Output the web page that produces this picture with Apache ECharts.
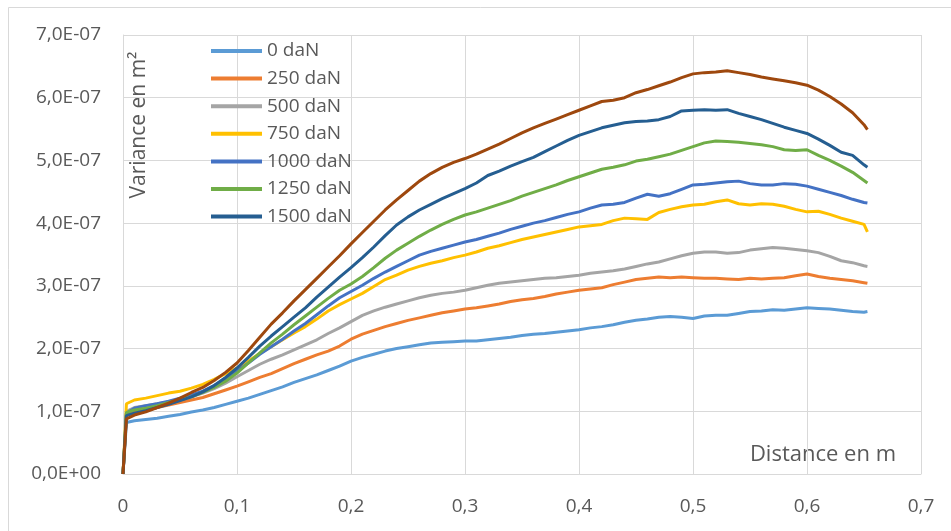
<!DOCTYPE html>
<html>
<head>
<meta charset="utf-8">
<script src="https://cdn.jsdelivr.net/npm/echarts@6/dist/echarts.min.js"></script>
<style>
html,body{margin:0;padding:0;background:#fff;}
#chart{width:951px;height:531px;}
</style>
</head>
<body>
<div id="chart"></div>
<script>
// Distance (m)
const distance = [0, 0.003,
  0.01,0.02,0.03,0.04,0.05,0.06,0.07,0.08,0.09,0.10,
  0.11,0.12,0.13,0.14,0.15,0.16,0.17,0.18,0.19,0.20,
  0.21,0.22,0.23,0.24,0.25,0.26,0.27,0.28,0.29,0.30,
  0.31,0.32,0.33,0.34,0.35,0.36,0.37,0.38,0.39,0.40,
  0.41,0.42,0.43,0.44,0.45,0.46,0.47,0.48,0.49,0.50,
  0.51,0.52,0.53,0.54,0.55,0.56,0.57,0.58,0.59,0.60,
  0.61,0.62,0.63,0.64,0.65,0.653];

// Variance values, in units of 1E-07 m²
const v0 = [0, 0.82,
  0.85,0.87,0.89,0.92,0.95,0.99,1.02,1.06,1.11,1.16,
  1.21,1.27,1.33,1.39,1.46,1.52,1.58,1.65,1.72,1.80,
  1.86,1.91,1.96,2.00,2.03,2.06,2.09,2.10,2.11,2.12,
  2.12,2.14,2.16,2.18,2.21,2.23,2.24,2.26,2.28,2.30,
  2.33,2.35,2.38,2.42,2.45,2.47,2.50,2.51,2.50,2.48,
  2.52,2.53,2.53,2.56,2.59,2.60,2.62,2.61,2.63,2.65,
  2.64,2.63,2.61,2.59,2.58,2.59];
const v250 = [0, 0.95,
  0.99,1.02,1.06,1.10,1.14,1.18,1.22,1.28,1.34,1.40,
  1.47,1.54,1.60,1.68,1.76,1.83,1.90,1.96,2.04,2.15,
  2.23,2.29,2.35,2.40,2.45,2.49,2.53,2.57,2.60,2.63,
  2.65,2.68,2.71,2.75,2.78,2.80,2.83,2.87,2.90,2.93,
  2.95,2.97,3.02,3.06,3.10,3.12,3.14,3.13,3.14,3.13,
  3.12,3.12,3.11,3.10,3.12,3.11,3.12,3.13,3.16,3.19,
  3.15,3.12,3.10,3.08,3.05,3.04];
const v500 = [0, 1.00,
  1.06,1.09,1.12,1.15,1.19,1.23,1.29,1.36,1.45,1.55,
  1.65,1.75,1.83,1.90,1.98,2.06,2.14,2.24,2.33,2.43,
  2.53,2.60,2.66,2.71,2.76,2.81,2.85,2.88,2.90,2.93,
  2.97,3.01,3.04,3.06,3.08,3.10,3.12,3.13,3.15,3.17,
  3.20,3.22,3.24,3.27,3.31,3.35,3.38,3.43,3.48,3.52,
  3.54,3.54,3.52,3.53,3.57,3.59,3.61,3.60,3.58,3.56,
  3.53,3.47,3.40,3.37,3.32,3.31];
const v750 = [0, 1.12,
  1.18,1.21,1.25,1.29,1.32,1.37,1.43,1.51,1.60,1.69,
  1.80,1.92,2.03,2.14,2.25,2.35,2.47,2.60,2.70,2.79,
  2.88,2.99,3.10,3.17,3.25,3.31,3.36,3.40,3.45,3.49,
  3.54,3.60,3.64,3.69,3.74,3.78,3.82,3.86,3.90,3.94,
  3.96,3.98,4.04,4.08,4.07,4.06,4.17,4.22,4.26,4.29,
  4.30,4.34,4.37,4.31,4.29,4.31,4.30,4.27,4.22,4.18,
  4.19,4.14,4.08,4.03,3.98,3.86];
const v1000 = [0, 0.97,
  1.05,1.09,1.12,1.16,1.21,1.26,1.32,1.41,1.52,1.64,
  1.77,1.91,2.03,2.15,2.28,2.40,2.54,2.68,2.81,2.91,
  3.01,3.12,3.22,3.31,3.40,3.49,3.55,3.60,3.65,3.70,
  3.74,3.79,3.84,3.90,3.95,4.00,4.04,4.09,4.14,4.18,
  4.24,4.29,4.30,4.33,4.40,4.46,4.43,4.47,4.54,4.61,
  4.62,4.64,4.66,4.67,4.63,4.61,4.61,4.63,4.62,4.59,
  4.54,4.49,4.44,4.38,4.33,4.32];
const v1250 = [0, 0.98,
  1.02,1.05,1.09,1.14,1.18,1.23,1.30,1.38,1.48,1.61,
  1.77,1.93,2.09,2.23,2.38,2.52,2.66,2.80,2.93,3.03,
  3.15,3.29,3.44,3.57,3.68,3.79,3.89,3.98,4.06,4.13,
  4.18,4.24,4.30,4.36,4.43,4.49,4.55,4.61,4.68,4.74,
  4.80,4.86,4.89,4.93,4.99,5.02,5.06,5.10,5.16,5.22,
  5.28,5.31,5.30,5.29,5.27,5.25,5.22,5.17,5.16,5.17,
  5.08,5.00,4.91,4.81,4.68,4.64];
const v1500 = [0, 0.93,
  0.97,1.01,1.06,1.11,1.17,1.23,1.31,1.41,1.54,1.69,
  1.86,2.04,2.20,2.35,2.50,2.65,2.82,2.98,3.14,3.29,
  3.45,3.62,3.80,3.97,4.10,4.21,4.30,4.39,4.47,4.55,
  4.64,4.76,4.83,4.91,4.98,5.05,5.14,5.23,5.32,5.40,
  5.46,5.52,5.56,5.60,5.62,5.63,5.65,5.70,5.79,5.80,
  5.81,5.80,5.81,5.75,5.70,5.65,5.59,5.53,5.48,5.43,
  5.34,5.24,5.13,5.08,4.93,4.89];
const v8 = [0, 0.88,
  0.94,0.99,1.06,1.13,1.21,1.30,1.38,1.49,1.62,1.77,
  1.97,2.18,2.39,2.57,2.76,2.94,3.12,3.30,3.48,3.67,
  3.85,4.03,4.21,4.37,4.52,4.67,4.79,4.89,4.97,5.03,
  5.10,5.18,5.26,5.35,5.44,5.52,5.59,5.66,5.73,5.80,
  5.87,5.94,5.96,6.00,6.08,6.13,6.19,6.25,6.32,6.38,
  6.40,6.41,6.43,6.40,6.37,6.33,6.30,6.27,6.24,6.20,
  6.12,6.02,5.90,5.76,5.57,5.49];

const seriesNames = ['0 daN','250 daN','500 daN','750 daN','1000 daN','1250 daN','1500 daN','Série 8'];
const legendNames = ['0 daN','250 daN','500 daN','750 daN','1000 daN','1250 daN','1500 daN'];
const seriesValues = [v0, v250, v500, v750, v1000, v1250, v1500, v8];
const colors = ['#5B9BD5','#ED7D31','#A5A5A5','#FFC000','#4472C4','#70AD47','#255E91','#9E480E'];

const FONT = '"Open Sans", "Noto Sans", sans-serif';
const TXT = '#595959';

const chart = echarts.init(document.getElementById('chart'), null, {renderer:'canvas'});
chart.setOption({
  animation: false,
  backgroundColor: '#ffffff',
  color: colors,
  textStyle: {fontFamily: FONT},
  grid: {left: 123, right: 30, top: 35, bottom: 57, containLabel: false},
  legend: {
    data: legendNames,
    orient: 'vertical',
    left: 211, top: 41,
    padding: 0,
    itemWidth: 51, itemHeight: 4,
    itemGap: 7.6,
    icon: 'rect',
    textStyle: {fontFamily: FONT, fontSize: 19, color: TXT, lineHeight: 20}
  },
  xAxis: {
    type: 'value', min: 0, max: 0.7, interval: 0.1,
    axisLine: {show: true, lineStyle: {color: '#D9D9D9', width: 1}},
    axisTick: {show: false},
    splitLine: {show: true, lineStyle: {color: '#D9D9D9', width: 1}},
    axisLabel: {
      margin: 23, fontSize: 19, color: TXT, fontFamily: FONT,
      formatter: v => v === 0 ? '0' : v.toFixed(1).replace('.', ',')
    }
  },
  yAxis: {
    type: 'value', min: 0, max: 7e-7, interval: 1e-7,
    axisLine: {show: true, lineStyle: {color: '#D9D9D9', width: 1}},
    axisTick: {show: false},
    splitLine: {show: true, lineStyle: {color: '#D9D9D9', width: 1}},
    axisLabel: {
      margin: 22, fontSize: 19, color: TXT, fontFamily: FONT,
      formatter: v => {
        const n = Math.round(v * 1e7);
        return n === 0 ? '0,0E+00' : n + ',0E-07';
      }
    }
  },
  graphic: [
    {type: 'rect', shape: {x: 8.5, y: 7.5, width: 1000, height: 600},
     style: {fill: 'none', stroke: '#D9D9D9', lineWidth: 1}, silent: true, z: -10},
    {type: 'text', x: 139, y: 125, rotation: Math.PI / 2,
     style: {text: 'Variance en m²', fontFamily: FONT, fontSize: 21, fill: TXT,
             align: 'center', verticalAlign: 'middle'}},
    {type: 'text', x: 896, y: 455,
     style: {text: 'Distance en m', fontFamily: FONT, fontSize: 22, fill: TXT,
             align: 'right', verticalAlign: 'middle'}}
  ],
  series: seriesValues.map((vals, i) => ({
    name: seriesNames[i],
    type: 'line',
    showSymbol: false,
    symbol: 'none',
    lineStyle: {width: 3, color: colors[i]},
    itemStyle: {color: colors[i]},
    data: distance.map((d, j) => [d, vals[j] * 1e-7])
  }))
});
</script>
</body>
</html>
